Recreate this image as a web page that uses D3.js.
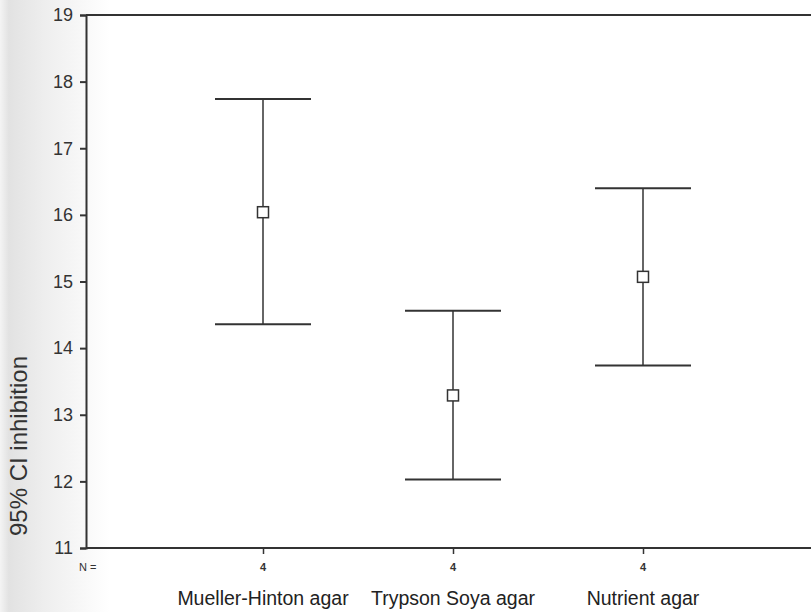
<!DOCTYPE html>
<html>
<head>
<meta charset="utf-8">
<script src="https://cdn.jsdelivr.net/npm/d3@7"></script>
<style>
  body { margin: 0; background: #fff; }
  svg { display: block; }
</style>
</head>
<body>
<div id="chart"></div>
<script>
// agar media, 95% CI of inhibition zone
const categories = ['Mueller-Hinton agar', 'Trypson Soya agar', 'Nutrient agar'];
const means = [16.04, 13.29, 15.07];
const lower = [14.36, 12.03, 13.74];
const upper = [17.74, 14.56, 16.40];
const counts = [4, 4, 4];
const yTicks = [11, 12, 13, 14, 15, 16, 17, 18, 19];

const W = 811, H = 612;
const margin = { top: 15, right: 0, bottom: 64, left: 86 };
const width = W - margin.left - margin.right;
const height = H - margin.top - margin.bottom;

const svg = d3.select('#chart').append('svg').attr('width', W).attr('height', H);

// scanned page tint on the left edge
const grad = svg.append('defs').append('linearGradient').attr('id', 'scan');
grad.append('stop').attr('offset', '0%').attr('stop-color', '#f4f4f4');
grad.append('stop').attr('offset', '8%').attr('stop-color', '#e2e2e2');
grad.append('stop').attr('offset', '40%').attr('stop-color', '#eeeeee');
grad.append('stop').attr('offset', '100%').attr('stop-color', '#ffffff');
svg.append('rect').attr('width', 110).attr('height', H).attr('fill', 'url(#scan)');

const g = svg.append('g').attr('transform', 'translate(' + margin.left + ',' + margin.top + ')');

const x = d3.scalePoint().domain(categories).range([177, 557]);
const y = d3.scaleLinear().domain([11, 19]).range([height, 0]);

const ink = '#333';
const font = 'Liberation Sans, Arial, sans-serif';

// y axis
const yAxis = g.append('g')
  .call(d3.axisLeft(y).tickValues(yTicks).tickSize(6).tickPadding(7).tickFormat(d3.format('d')));
yAxis.select('.domain').attr('stroke', ink).attr('stroke-width', 2);
yAxis.selectAll('.tick line').attr('stroke', ink).attr('stroke-width', 2);
yAxis.selectAll('.tick text')
  .attr('fill', '#333')
  .style('font-family', font)
  .style('font-size', '18px');

// x axis
const xAxis = g.append('g')
  .attr('transform', 'translate(0,' + height + ')')
  .call(d3.axisBottom(x).tickSize(6).tickFormat(''));
xAxis.select('.domain').remove();
xAxis.selectAll('.tick line').attr('stroke', ink).attr('stroke-width', 1.5);
g.append('line')
  .attr('x1', 0).attr('x2', width)
  .attr('y1', height).attr('y2', height)
  .attr('stroke', ink).attr('stroke-width', 2);

// top frame
g.append('line')
  .attr('x1', 0).attr('x2', width)
  .attr('y1', 0).attr('y2', 0)
  .attr('stroke', ink).attr('stroke-width', 2);

// N = counts
g.append('text')
  .attr('x', -7).attr('y', height + 23)
  .attr('fill', ink)
  .style('font-family', font)
  .style('font-size', '11px')
  .text('N =');
g.selectAll('.count')
  .data(categories)
  .enter()
  .append('text')
  .attr('class', 'count')
  .attr('x', (d) => x(d))
  .attr('y', height + 23)
  .attr('text-anchor', 'middle')
  .attr('fill', ink)
  .style('font-family', font)
  .style('font-size', '11px')
  .style('font-weight', 'bold')
  .text((d, i) => counts[i]);

// category labels
g.selectAll('.cat')
  .data(categories)
  .enter()
  .append('text')
  .attr('class', 'cat')
  .attr('x', (d) => x(d))
  .attr('y', height + 57)
  .attr('text-anchor', 'middle')
  .attr('fill', '#222')
  .style('font-family', font)
  .style('font-size', '19.5px')
  .text((d) => d);

// y label
svg.append('text')
  .attr('transform', 'translate(27,446) rotate(-90)')
  .attr('text-anchor', 'middle')
  .attr('fill', '#333')
  .style('font-family', font)
  .style('font-size', '24px')
  .text('95% CI inhibition');

// error bars
const capHalf = 48;
const bars = g.selectAll('.bar')
  .data(categories)
  .enter()
  .append('g')
  .attr('class', 'bar');

bars.append('line')
  .attr('x1', (d) => x(d)).attr('x2', (d) => x(d))
  .attr('y1', (d, i) => y(upper[i])).attr('y2', (d, i) => y(lower[i]))
  .attr('stroke', ink).attr('stroke-width', 1.5);
bars.append('line')
  .attr('x1', (d) => x(d) - capHalf).attr('x2', (d) => x(d) + capHalf)
  .attr('y1', (d, i) => y(upper[i])).attr('y2', (d, i) => y(upper[i]))
  .attr('stroke', ink).attr('stroke-width', 2);
bars.append('line')
  .attr('x1', (d) => x(d) - capHalf).attr('x2', (d) => x(d) + capHalf)
  .attr('y1', (d, i) => y(lower[i])).attr('y2', (d, i) => y(lower[i]))
  .attr('stroke', ink).attr('stroke-width', 2);
bars.append('rect')
  .attr('x', (d) => x(d) - 5.5)
  .attr('y', (d, i) => y(means[i]) - 5.5)
  .attr('width', 11).attr('height', 11)
  .attr('fill', '#fff')
  .attr('stroke', ink).attr('stroke-width', 1.5);
</script>
</body>
</html>
